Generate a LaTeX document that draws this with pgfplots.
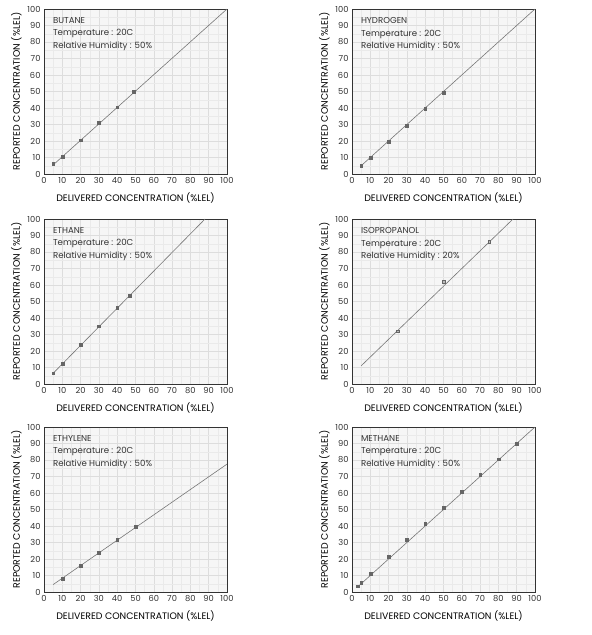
\documentclass[border=0pt]{standalone}
\usepackage{pgfplots}
\pgfplotsset{compat=1.18}
\usepackage{fontspec}
\setmainfont{Poppins}
\definecolor{bgfill}{HTML}{F6F6F6}
\definecolor{gridc}{HTML}{DDDDDD}
\definecolor{minorc}{HTML}{EAEAEA}
\definecolor{framec}{HTML}{333333}
\definecolor{linec}{HTML}{777777}
\definecolor{markc}{HTML}{666666}
\definecolor{textc}{HTML}{333333}

\pgfplotsset{
  panel/.style={
    scale only axis, width=183pt, height=165pt, anchor=north west,
    xmin=0, xmax=100, ymin=0, ymax=100,
    xtick={0,10,...,100}, ytick={0,10,...,100},
    minor tick num=1,
    grid=both,
    major grid style={gridc, line width=0.5pt},
    minor grid style={minorc, line width=0.4pt},
    axis background/.style={fill=bgfill},
    axis line style={framec, line width=0.9pt},
    tick style={draw=none},
    /pgf/number format/assume math mode=true,
    ticklabel style={font=\fontsize{8.3}{9}\selectfont, text=textc},
    xlabel={DELIVERED CONCENTRATION (\%LEL)},
    ylabel={REPORTED CONCENTRATION (\%LEL)},
    label style={font=\fontsize{9.4}{10}\selectfont, text=black},
    xlabel style={yshift=-2pt},
    ylabel style={yshift=-1pt},
    clip=false,
  },
  fit/.style={linec, line width=0.6pt, no marks},
  pts/.style={only marks, mark=square*, mark size=1.4pt, mark options={fill=markc, draw=markc, line width=0.4pt}},
}
\newcommand{\info}[2]{\node[anchor=north west, align=left, text=textc,
  font=\fontsize{8.6}{12.5}\selectfont] at (rel axis cs:0.03,0.97)
  {#1\\Temperature : 20C\\Relative Humidity : #2};}

\begin{document}
\begin{tikzpicture}
\path[use as bounding box] (0,0) rectangle (592pt,635pt);

% butane
\begin{axis}[panel, at={(44pt,626pt)}]
\addplot[fit] coordinates {(5,5.5) (100,100)};
\addplot[pts] coordinates {(5,6) (10,10.5) (20,20.5) (30,31) (40,40.5) (49,50)};
\info{BUTANE}{50\%}
\end{axis}

% hydrogen
\begin{axis}[panel, at={(352pt,626pt)}]
\addplot[fit] coordinates {(5,5) (100,100)};
\addplot[pts] coordinates {(5,5) (10,10) (20,19.5) (30,29.5) (40,39.5) (50,49.5)};
\info{HYDROGEN}{50\%}
\end{axis}

% ethane
\begin{axis}[panel, at={(44pt,416pt)}]
\addplot[fit] coordinates {(5,6.5) (88,100)};
\addplot[pts] coordinates {(5,6.5) (10,12.5) (20,24) (30,35) (40,46) (47,53.5)};
\info{ETHANE}{50\%}
\end{axis}

% isopropanol
\begin{axis}[panel, at={(352pt,416pt)}]
\addplot[fit] coordinates {(5,11) (88,100)};
\addplot[pts, mark options={draw=markc, fill=markc!45}] coordinates {(25,32) (50,62) (75,86)};
\info{ISOPROPANOL}{20\%}
\end{axis}

% ethylene
\begin{axis}[panel, at={(44pt,208pt)}]
\addplot[fit] coordinates {(5,4.5) (100,77.5)};
\addplot[pts] coordinates {(10,8) (20,16) (30,24) (40,31.5) (50,39.5)};
\info{ETHYLENE}{50\%}
\end{axis}

% methane
\begin{axis}[panel, at={(352pt,208pt)}]
\addplot[fit] coordinates {(3,3) (100,100)};
\addplot[pts] coordinates {(3,3.5) (5,5.5) (10,11) (20,21.5) (30,31.5) (40,41.5) (50,51) (60,61) (70,71) (80,80.5) (90,90)};
\info{METHANE}{50\%}
\end{axis}
\end{tikzpicture}
\end{document}
